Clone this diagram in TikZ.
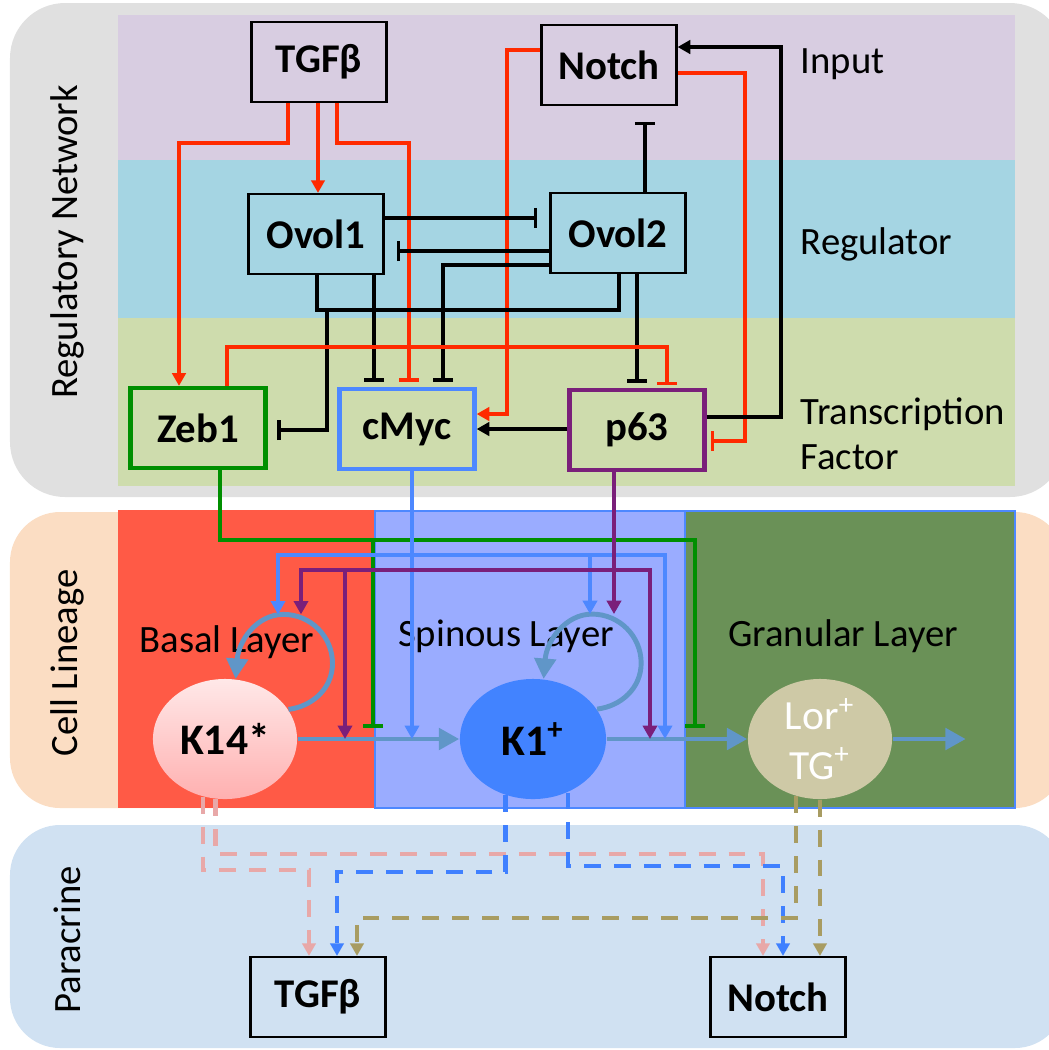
\documentclass[tikz,border=0pt]{standalone}
\usepackage{fontspec}
\setmainfont{Carlito}
\usetikzlibrary{arrows.meta,shapes.geometric}

\definecolor{panelgray}{HTML}{E0E0E0}
\definecolor{panelpeach}{HTML}{FBDDC3}
\definecolor{panelblue}{HTML}{D0E1F2}
\definecolor{bandinput}{HTML}{D8CDE1}
\definecolor{bandreg}{HTML}{A5D5E3}
\definecolor{bandtf}{HTML}{CEDCAD}
\definecolor{basalred}{HTML}{FF5A46}
\definecolor{spinblue}{HTML}{9AACFF}
\definecolor{grangreen}{HTML}{6A9157}
\definecolor{edgeblue}{HTML}{4D88FF}
\definecolor{actred}{HTML}{FF2A00}
\definecolor{zebgreen}{HTML}{008F00}
\definecolor{mycblue}{HTML}{4D88FF}
\definecolor{ppurple}{HTML}{7A1F7A}
\definecolor{flowblue}{HTML}{6096C8}
\definecolor{konefill}{HTML}{4283FF}
\definecolor{ktop}{HTML}{FFE8E8}
\definecolor{kbot}{HTML}{FFB0B0}
\definecolor{lorbeige}{HTML}{CEC9A6}
\definecolor{dashpink}{HTML}{E8A8A8}
\definecolor{dashblue}{HTML}{3F80FF}
\definecolor{dasholive}{HTML}{A89C62}

\tikzset{
  txt/.style={font=\fontsize{11}{12.8}\selectfont, inner sep=0pt},
  gene/.style={draw, line width=0.6pt, minimum width=1.35cm, minimum height=0.8cm,
    inner sep=0pt, font=\fontsize{11.6}{13}\selectfont\bfseries},
  tfbox/.style={gene, line width=1.2pt},
  cell/.style={ellipse, minimum width=1.44cm, minimum height=1.2cm, inner sep=0pt,
    font=\fontsize{12.4}{13}\selectfont\bfseries},
  net/.style={line width=1pt},
  act/.style={net, -{Triangle[length=3.6pt,width=3.8pt]}},
  inh/.style={net, -{Bar[width=5.8pt]}},
  lin/.style={line width=1.15pt},
  linact/.style={lin, -{Triangle[length=3.8pt,width=4pt]}},
  lininh/.style={lin, -{Bar[width=5.8pt]}},
  flow/.style={flowblue, line width=1.4pt, -{Triangle[length=5.8pt,width=6pt]}},
  para/.style={line width=1.2pt, dash pattern=on 4.8pt off 3.7pt,
    -{Triangle[length=3.6pt,width=3.8pt]}},
}

% self activation loop above a cell, #2 names its top point
\newcommand{\selfloop}[2]{%
  \draw[flow] (#1.25) .. controls +(24,-3) and +(0,25) .. ++(44,-46)
    .. controls +(0,-27) and +(27,0) .. ++(-49,-49) coordinate (#2)
    .. controls +(-27,0) and +(3,-38) .. (#1.80);}

\begin{document}
\begin{tikzpicture}[x=0.01cm,y=-0.01cm]
  \useasboundingbox (0,0) rectangle (1049,1050);
  % panels
  \fill[panelgray, rounded corners=0.55cm] (10,3) rectangle (1065,497);
  \fill[panelpeach, rounded corners=0.5cm] (10,512) rectangle (1065,808);
  \fill[panelblue, rounded corners=0.5cm] (10,825) rectangle (1065,1048);
  \fill[bandinput] (118,15) rectangle (1015,160);
  \fill[bandreg] (118,160) rectangle (1015,318);
  \fill[bandtf] (118,318) rectangle (1015,486);
  \fill[basalred] (118,510) rectangle (375,808);
  \filldraw[fill=spinblue, draw=edgeblue, line width=0.4pt] (375,511) rectangle (685,808);
  \filldraw[fill=grangreen, draw=edgeblue, line width=0.4pt] (685,511) rectangle (1015,808);

  % labels
  \node[txt, rotate=90] (lblnet) at (67,242) {Regulatory Network};
  \node[txt, rotate=90] (lbllin) at (67,663) {Cell Lineage};
  \node[txt, rotate=90] (lblpar) at (67,940) {Paracrine};
  \node[txt, anchor=base west] (lblin) at (800,73) {Input};
  \node[txt, anchor=base west] (lblreg) at (800,254) {Regulator};
  \node[txt, anchor=base west] (lbltf) at (800,424) {Transcription};
  \node[txt, anchor=base west] (lblfac) at (800,469) {Factor};
  \node[txt, anchor=base] (lblbasal) at (227,652) {Basal Layer};
  \node[txt, anchor=base] (lblspin) at (506,646) {Spinous Layer};
  \node[txt, anchor=base] (lblgran) at (843,646) {Granular Layer};

  % network
  \node[gene] (tgf) at (319,62) {TGFβ};
  \node[gene] (notch) at (609,65) {Notch};
  \node[gene] (ovoa) at (316,234) {Ovol1};
  \node[gene] (ovob) at (618,233) {Ovol2};
  \node[tfbox, draw=zebgreen] (zeb) at (198,428) {Zeb1};
  \node[tfbox, draw=mycblue] (myc) at (407,429) {cMyc};
  \node[tfbox, draw=ppurple] (p63) at (637,430) {p63};

  % cells
  \node[cell, top color=ktop, bottom color=kbot] (k14) at (225,739) {K14*};
  \node[cell, fill=konefill, minimum width=1.46cm] (k1) at (533,739) {K1\textsuperscript{+}};
  \node[cell, fill=lorbeige, text=white, align=center,
    font=\fontsize{11.8}{14}\selectfont] (lor) at (820,739) {Lor\textsuperscript{+}\\TG\textsuperscript{+}};

  % paracrine targets
  \node[gene] (tgfb) at (318,997) {TGFβ};
  \node[gene] (notchb) at (778,997) {Notch};

  % regulatory links
  \draw[act, actred] (288,0 |- tgf.south) -- (288,143) -- (179,143) -- (179,0 |- zeb.north);
  \draw[act, actred] (318,0 |- tgf.south) -- (318,0 |- ovoa.north);
  \draw[inh, actred, shorten >=1.5pt] (337,0 |- tgf.south) -- (337,143) -- (409,143) -- (409,0 |- myc.north);
  \draw[act, actred] (notch.west |- 0,50) -- (507,50) -- (507,414) -- (myc.east |- 0,414);
  \draw[inh, actred, shorten >=1.2pt] (notch.east |- 0,73) -- (745,73) -- (745,441) -- (p63.east |- 0,441);
  \draw[act] (p63.east |- 0,417) -- (781,417) -- (781,47) -- (notch.east |- 0,47);
  \draw[inh, shorten >=4.5pt] (645,0 |- ovob.north) -- (645,0 |- notch.south);
  \draw[inh, shorten >=3.4pt] (ovoa.east |- 0,218) -- (ovob.west |- 0,218);
  \draw[inh, shorten >=3.4pt] (ovob.west |- 0,251) -- (ovoa.east |- 0,251);
  \draw[inh, shorten >=1.5pt] (ovob.west |- 0,265) -- (443,265) -- (443,0 |- myc.north);
  \draw[inh, shorten >=1.5pt] (374,0 |- ovoa.south) -- (374,0 |- myc.north);
  \draw[net] (317,0 |- ovoa.south) -- (317,310) -- (619,310) -- (619,0 |- ovob.south);
  \draw[inh, shorten >=2.8pt] (327,310) -- (327,430) -- (zeb.east |- 0,430);
  \draw[inh, shorten >=1.5pt] (637,0 |- ovob.south) -- (637,0 |- p63.north);
  \draw[inh, actred, shorten >=0.8pt] (227,0 |- zeb.north) -- (227,347) -- (667,347) -- (667,0 |- p63.north);
  \draw[act] (p63.west |- 0,429) -- (myc.east |- 0,429);

  % lineage flow
  \draw[flow] (k14.east) -- (k1.west);
  \draw[flow] (k1.east) -- (lor.west);
  \draw[flow] (lor.east) -- ++(73,0) coordinate (flowend);
  \selfloop{k14}{loopa}
  \selfloop{k1}{loopb}

  % transcription factor control of lineage
  \draw[lininh, zebgreen, shorten >=3pt] (220,0 |- zeb.south) -- (220,540) -- (695,540) -- (695,0 |- lor.west);
  \draw[lininh, zebgreen, shorten >=3pt] (373,540) -- (373,0 |- k14.east);
  \draw[linact, mycblue] (412,0 |- myc.south) -- (412,0 |- k14.east);
  \draw[linact, mycblue] (412,555) -| (278,0 |- loopa);
  \draw[linact, mycblue] (412,555) -| (665,0 |- k1.east);
  \draw[linact, mycblue] (590,555) -- (590,0 |- loopb);
  \draw[linact, ppurple] (614,0 |- p63.south) -- (614,0 |- loopb);
  \draw[linact, ppurple] (614,570) -| (301,0 |- loopa);
  \draw[linact, ppurple] (614,570) -| (650,0 |- k1.east);
  \draw[linact, ppurple] (345,570) -- (345,0 |- k14.east);

  % paracrine signals
  \draw[para, dashpink] (k14.249) |- (309,870) -- (309,0 |- tgfb.north);
  \draw[para, dashpink] (k14.261) |- (763,854) -- (763,0 |- notchb.north);
  \draw[para, dashblue] (k1.244) |- (337,872) -- (337,0 |- tgfb.north);
  \draw[para, dashblue] (k1.-57) |- (783,866) -- (783,0 |- notchb.north);
  \draw[para, dasholive] (lor.247) |- (357,918) -- (357,0 |- tgfb.north);
  \draw[para, dasholive] (lor.south) -- (lor.south |- notchb.north);
\end{tikzpicture}
\end{document}
